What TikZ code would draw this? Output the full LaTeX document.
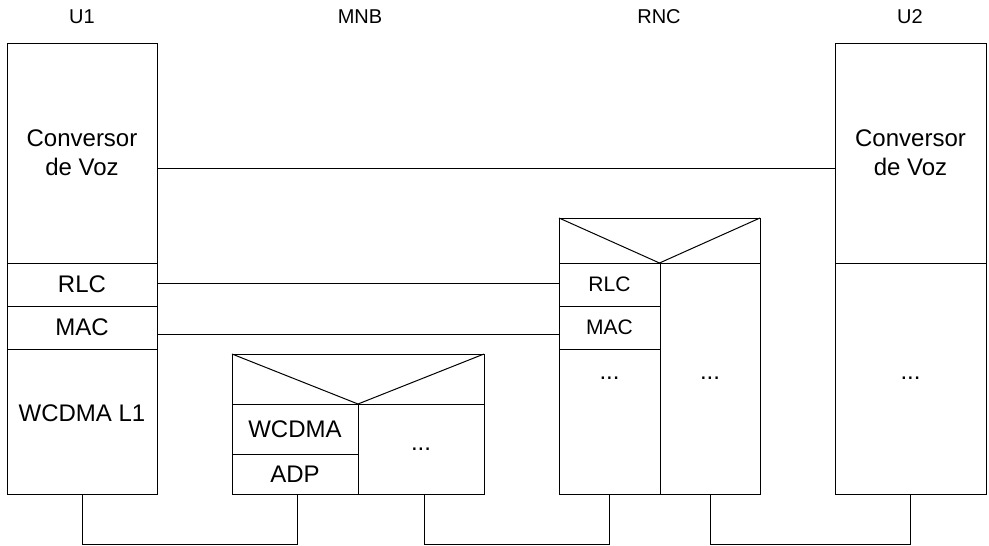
\documentclass[tikz,border=0pt]{standalone}
\usepackage{fontspec}
\setmainfont{Liberation Sans}
\begin{document}
\begin{tikzpicture}[x=1pt,y=-1pt,
  layer/.style={draw, line width=1pt, inner sep=0pt, outer sep=0pt, align=center, fill=white,
    font=\fontsize{24}{29}\selectfont},
  small/.style={font=\fontsize{21}{25}\selectfont},
  title/.style={inner sep=0pt, font=\fontsize{20}{24}\selectfont},
  wire/.style={line width=1pt}]
\useasboundingbox (0,0) rectangle (989,546);
% titles
\node[title] (t1) at (82,17) {U1};
\node[title] (t2) at (360,17) {MNB};
\node[title] (t3) at (659,17) {RNC};
\node[title] (t4) at (910,17) {U2};
% U1
\node[layer, minimum width=150pt, minimum height=220pt] (u1conv) at (82,153) {Conversor\\de Voz};
\node[layer, minimum width=150pt, minimum height=43pt] (u1rlc) at (82,284.5) {RLC};
\node[layer, minimum width=150pt, minimum height=43pt] (u1mac) at (82,327.5) {MAC};
\node[layer, minimum width=150pt, minimum height=145pt, text depth=16pt] (u1l1) at (82,421.5) {WCDMA L1};
% U2
\node[layer, minimum width=151pt, minimum height=220pt] (u2conv) at (910.5,153) {Conversor\\de Voz};
\node[layer, minimum width=151pt, minimum height=231pt] (u2low) at (910.5,378.5) {...};
% MNB
\node[layer, minimum width=252pt, minimum height=50pt] (mnbtop) at (358,379) {};
\node[layer, minimum width=126pt, minimum height=50pt] (mnbw) at (295,429) {WCDMA};
\node[layer, minimum width=126pt, minimum height=40pt] (mnbadp) at (295,474) {ADP};
\node[layer, minimum width=126pt, minimum height=90pt] (mnbdots) at (421,449) {...};
\draw[wire] (mnbtop.north west) -- (mnbtop.south) -- (mnbtop.north east);
% RNC
\node[layer, minimum width=201pt, minimum height=45pt] (rnctop) at (659.5,240.5) {};
\node[layer, minimum width=101pt, minimum height=231pt] (rncl) at (609.5,378.5) {...};
\node[layer, minimum width=100pt, minimum height=231pt] (rncr) at (710,378.5) {...};
\node[layer, small, minimum width=101pt, minimum height=43pt] (rncrlc) at (609.5,284.5) {RLC};
\node[layer, small, minimum width=101pt, minimum height=43pt] (rncmac) at (609.5,327.5) {MAC};
\draw[wire] (rnctop.north west) -- (rnctop.south) -- (rnctop.north east);
% peer connections
\draw[wire] ([yshift=-15pt]u1conv.east) -- ([yshift=-15pt]u2conv.west);
\draw[wire] ([yshift=1.5pt]u1rlc.east) -- ([yshift=1.5pt]rncrlc.west);
\draw[wire] ([yshift=-6.5pt]u1mac.east) -- ([yshift=-6.5pt]rncmac.west);
% physical links
\draw[wire] (u1l1.south) -- ++(0,50) -| ([xshift=2pt]mnbadp.south);
\draw[wire] ([xshift=3pt]mnbdots.south) -- ++(0,50) -| (rncl.south);
\draw[wire] (rncr.south) -- ++(0,50) -| (u2low.south);
\end{tikzpicture}
\end{document}
